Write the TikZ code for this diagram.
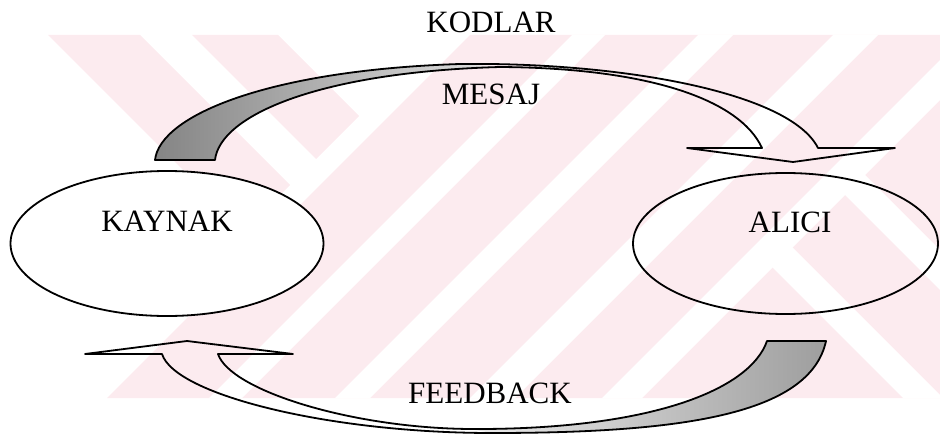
\documentclass[tikz,border=0pt]{standalone}
\usepackage{fontspec}
\setmainfont{Liberation Serif}
\usetikzlibrary{shapes.geometric}
\definecolor{wm}{RGB}{252,235,239}
\begin{document}
\begin{tikzpicture}[x=1pt,y=-1pt,
  ell/.style={draw, ellipse, line width=1.8pt, inner sep=0pt},
  lbl/.style={font=\fontsize{31}{36}\selectfont, inner sep=0pt, anchor=base},
  rib/.style={line width=1.8pt, line join=round},
  wmpink/.style={fill=wm, draw=none},
  wmwhite/.style={fill=white, draw=none},
]
\useasboundingbox (0,0) rectangle (940,441);

% faint background watermark
\begin{scope}
  \clip (48,35) rectangle (940,398);
  \fill[wmpink] (48,35) -- (140,35) -- (290,185) -- (244,231) -- cycle;
  \fill[wmpink] (192,35) -- (278,35) -- (359,116) -- (316,159) -- cycle;
  \fill[wmpink] (470,35) -- (940,35) -- (940,398) -- (107,398) -- cycle;
  \fill[wmwhite] (572,35) -- (605,35) -- (242,398) -- (209,398) -- cycle;
  \fill[wmwhite] (698,35) -- (733,35) -- (370,398) -- (335,398) -- cycle;
  \fill[wmwhite] (833,35) -- (878,35) -- (515,398) -- (470,398) -- cycle;
  \fill[wmwhite] (965,35) -- (1005,35) -- (642,398) -- (602,398) -- cycle;
  \fill[wmwhite] (757,252) -- (777,232) -- (943,398) -- (903,398) -- cycle;
  \fill[wmwhite] (830,180) -- (850,160) -- (940,250) -- (940,290) -- cycle;
\end{scope}

% ellipses
\node[ell, fill=white, minimum width=313pt, minimum height=145pt] (kaynak) at (167,243.5) {};
\node[ell, minimum width=305pt, minimum height=141pt] (alici) at (785.5,243.5) {};

% top ribbon coordinates
\coordinate (tAo) at (155,160);
\coordinate (tAi) at (215,160);
\coordinate (tBo) at (818,148);
\coordinate (tBi) at (762,148);
\coordinate (tLp) at (687,148);
\coordinate (tRp) at (895,148);
\coordinate (tTip) at (793,162);

% bottom ribbon coordinates
\coordinate (bAo) at (162,354);
\coordinate (bAi) at (218,354);
\coordinate (bLp) at (85,354);
\coordinate (bRp) at (293,354);
\coordinate (bTip) at (187,341);
\coordinate (bBi) at (767,341);
\coordinate (bBo) at (826,341);

% shaded back faces
\shade[left color=black!48, right color=black!12]
  (tAo) .. controls (160,115) and (270,70) .. (460,64) -- (500,67)
  .. controls (320,72) and (220,115) .. (tAi) -- cycle;
\shade[left color=black!8, right color=black!38]
  (bBi) -- (bBo) .. controls (810,415) and (680,433) .. (492,433) -- (470,429)
  .. controls (650,430) and (750,390) .. (bBi) -- cycle;

% top ribbon outline
\draw[rib] (tAi) -- (tAo) .. controls (160,115) and (270,70) .. (460,64)
  .. controls (620,62) and (790,92) .. (tBo) -- (tRp) -- (tTip) -- (tLp) -- (tBi)
  .. controls (740,100) and (650,68) .. (500,67)
  .. controls (320,72) and (220,115) .. (tAi) -- cycle;

% bottom ribbon outline
\draw[rib] (bAo) -- (bLp) -- (bTip) -- (bRp) -- (bAi)
  .. controls (230,390) and (350,428) .. (470,429)
  .. controls (650,430) and (750,390) .. (bBi) -- (bBo)
  .. controls (810,415) and (680,433) .. (492,433)
  .. controls (330,433) and (175,395) .. (bAo) -- cycle;

% labels
\node[lbl] (kodlar) at (491,33) {KODLAR};
\node[lbl] (mesaj) at (491,105) {MESAJ};
\node[lbl] (feedback) at (490,403) {FEEDBACK};
\node[lbl] (kaynakT) at (167,231) {KAYNAK};
\node[lbl] (aliciT) at (790,232) {ALICI};
\end{tikzpicture}
\end{document}
